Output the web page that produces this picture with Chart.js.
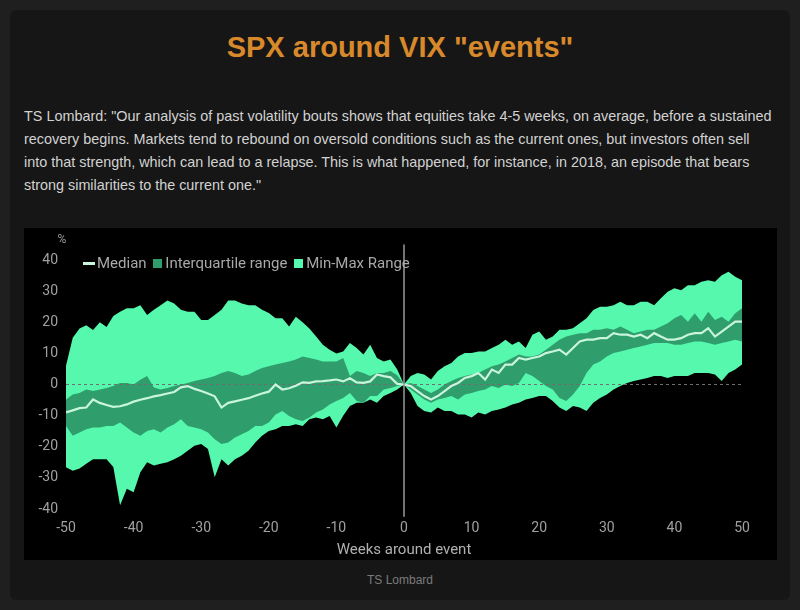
<!DOCTYPE html>
<html>
<head>
<meta charset="utf-8">
<script src="https://cdn.jsdelivr.net/npm/chart.js@4"></script>
<style>
    body { margin: 0; background: #1f1f1f; font-family: "Liberation Sans", Arial, sans-serif; }
    .card { position: absolute; left: 10px; top: 10px; width: 780px; height: 590px; background: #161616; border-radius: 6px; }
    h1 { position: absolute; left: 0; top: 19px; width: 780px; margin: 0; text-align: center; font-size: 29px; line-height: 36px; color: #d8892b; }
    p { position: absolute; left: 14px; top: 95px; width: 760px; margin: 0; font-size: 14.4px; line-height: 23px; color: #d2d2d2; white-space: nowrap; }
    .chart-box { position: absolute; left: 14px; top: 218px; width: 753px; height: 332px; background: #000; }
    .legend { position: absolute; left: 59px; top: 25px; font-family: Roboto, sans-serif; font-size: 15px; color: #a8a8a8; white-space: nowrap; }
    .legend span { display: inline-block; vertical-align: middle; }
    .sw-line { width: 12px; height: 3px; background: #c8f5dc; margin-right: 2px; }
    .sw-box { width: 9px; height: 9px; margin: 0 3px 0 3px; }
    .source { position: absolute; left: 0; top: 563px; width: 780px; text-align: center; font-size: 12px; color: #7a7a7a; }
</style>
</head>
<body>
<div class="card">
    <h1>SPX around VIX "events"</h1>
    <p>TS Lombard: "Our analysis of past volatility bouts shows that equities take 4-5 weeks, on average, before a sustained<br>recovery begins. Markets tend to rebound on oversold conditions such as the current ones, but investors often sell<br>into that strength, which can lead to a relapse. This is what happened, for instance, in 2018, an episode that bears<br>strong similarities to the current one."</p>
    <div class="chart-box">
        <canvas id="spxChart"></canvas>
        <div class="legend">
            <span class="sw-line"></span><span>Median</span>
            <span class="sw-box" style="background:#2f9e6c"></span><span>Interquartile range</span>
            <span class="sw-box" style="background:#55f8ac"></span><span>Min-Max Range</span>
        </div>
    </div>
    <div class="source">TS Lombard</div>
</div>

<script>
// ================= DATA =================
const weeks = [];
for (let w = -50; w <= 50; w++) weeks.push(w);

const median = [
    -9, -8.3, -7.6, -7.4, -4.8, -5.9, -6.6, -7.2, -7, -6.4,
    -5.5, -4.9, -4.4, -3.8, -3.4, -2.9, -2.4, -0.9, -0.5, -1.4,
    -2.1, -2.9, -3.8, -7.4, -5.9, -5.4, -4.9, -4.4, -3.6, -2.9,
    -2.3, 0, -1.6, -1.2, -0.4, 0.7, 0.5, 1, 1.1, 1.3,
    1.6, 1, 2, 0.7, 0.5, 1, 3.2, 2.7, 2.3, 0.2,
    0,
    -0.5, -2.1, -3.7, -4.8, -3.7, -2.1, -0.5, 0.5, 2.1, 2.7,
    3.7, 1.6, 4.8, 3.7, 6.4, 6.4, 8.5, 8, 8.5, 9,
    10.1, 10.6, 11.2, 9.6, 11.7, 13.8, 14.4, 14.4, 14.9, 14.9,
    16.5, 16, 16, 15.4, 16, 14.9, 16.5, 15.4, 14.4, 14.4,
    14.9, 16, 16.5, 16.5, 18.1, 15.4, 17, 18.6, 20.2, 20.2
];

const iqrHigh = [
    -4.8, -3.2, -2.7, -1.6, -2.1, -1.6, -1.1, -0.5, 0.5, 0.5,
    0, 1.5, 2.7, -1, -1.6, -1.1, -0.5, 0, 0.5, 1.1,
    1.6, 2.1, 2.7, 3.7, 4.3, 3.7, 2.7, 3.2, 4.3, 5.3,
    5.9, 6.4, 6.9, 7.4, 8, 9, 8.5, 8, 7.4, 7.4,
    7.4, 8.5, 2.7, 4.3, 3.7, 2.7, 3.7, 3.7, 4.3, 3,
    0,
    0.5, -0.5, -1.6, -2.7, -1.6, 0, 1.1, 2.1, 2.7, 3.2,
    3.7, 4.8, 5.9, 6.4, 7.4, 8.5, 9.6, 9, 9, 9.6,
    11.2, 12.8, 14.4, 15.4, 16, 16.5, 16.5, 17.6, 17.6, 18.1,
    17.6, 18.6, 17.6, 16.5, 17, 17.6, 17.6, 18.6, 19.7, 21.3,
    22.3, 20.2, 22.9, 20.2, 23.4, 20.7, 21.8, 20.2, 22.9, 24.5
];

const iqrLow = [
    -13.3, -16.5, -15.4, -14.4, -13.8, -13.8, -13.3, -13.3, -12.2, -13.8,
    -15.4, -16.5, -14.9, -14.4, -15.4, -13.8, -12.8, -11.2, -13.3, -13.8,
    -14.4, -15.4, -17.6, -19.1, -18.6, -17, -16, -14.9, -13.3, -13.3,
    -12.2, -9.6, -8.5, -10.1, -11.2, -11.7, -10.6, -9, -8, -6.4,
    -5.3, -4.3, -2.7, -5.3, -5.9, -3.7, -3.7, -1.6, -1.1, -0.5,
    0,
    -1.6, -3.2, -4.8, -5.9, -4.8, -4.3, -3.7, -4.8, -3.2, -2.7,
    -2.1, -1.6, -0.5, -1.1, 0, -0.5, 0.5, 3.7, 2.7, 1.1,
    -0.5, -1.6, -4.3, -5.3, -3.2, -0.5, 3.7, 6.4, 7.4, 9,
    10.1, 10.6, 11.2, 11.7, 12.2, 12.8, 13.3, 13.3, 13.3, 12.8,
    12.8, 13.3, 13.8, 13.8, 13.3, 12.8, 13.3, 13.8, 14.4, 13.8
];

const rangeHigh = [
    6, 15, 18, 19, 17.5, 20, 18.5, 22, 23.4, 24.5,
    24.5, 25.5, 22.3, 24, 25.5, 27, 26, 24, 23.4, 23.4,
    20.7, 20.7, 22.3, 24, 27, 27, 26, 25.5, 25.5, 24,
    23, 21.3, 21.3, 18.6, 21.8, 20, 18, 15.4, 12.8, 11.2,
    10, 10.6, 13.3, 11.7, 9.6, 12.8, 8.5, 7.4, 8, 4.8,
    0,
    2.7, 3.7, 3.2, 1.6, 4.3, 5.9, 6.9, 9, 10.1, 10.1,
    10.6, 10.6, 11.7, 12.8, 14.4, 12.8, 13.8, 11.7, 16, 17,
    14.4, 15.4, 17.6, 17.6, 18.1, 19.7, 21.3, 23.9, 25, 25,
    25.5, 26.6, 25.5, 25.5, 26.6, 26.6, 25.5, 27.7, 29.8, 30.9,
    30.3, 31.9, 31.9, 33, 33.5, 33, 35.1, 36.2, 34.6, 33.5
];

const rangeLow = [
    -26.6, -27.7, -27, -25.5, -24, -24, -24, -26.5, -38.8, -33.5,
    -34.6, -28.2, -25, -26, -25.5, -25, -24, -22.9, -21.3, -19.7,
    -19.1, -20.7, -29.8, -24, -26, -24, -22.9, -21.3, -18.6, -16.5,
    -14.9, -14.4, -13.3, -13.3, -12.8, -13.3, -11.2, -10.6, -11.2, -10.1,
    -13.8, -10, -6.9, -5.9, -5.9, -4.8, -5.9, -3.7, -2.7, -1.6,
    0,
    -2.7, -6.9, -8.5, -9, -7.4, -8.5, -8.5, -9.6, -9.6, -10.6,
    -9, -9.6, -8.5, -8, -7.4, -6.4, -5.9, -4.8, -4.3, -3.7,
    -3.7, -5.3, -7.4, -8.5, -6.9, -7.4, -8.5, -5.9, -4.3, -3.2,
    -1.6, -0.5, 0.5, 1.1, 1.6, 2.1, 2.7, 2.7, 2.1, 2.7,
    2.7, 2.7, 3.7, 3.7, 3.7, 3.2, 1.1, 3.7, 4.8, 6.4
];

const yTicks = [-40, -30, -20, -10, 0, 10, 20, 30, 40];
const xTicks = [-50, -40, -30, -20, -10, 0, 10, 20, 30, 40, 50];

// ================= HELPERS =================
function toPoints(values) {
    return weeks.map((w, i) => ({ x: w, y: values[i] }));
}

const band = { borderWidth: 0, pointRadius: 0, tension: 0 };

// ================= EXTRA DRAWING =================
// dashed zero line goes over the bands but under the median
const zeroLine = {
    id: "zeroLine",
    beforeDatasetDraw(chart, args) {
        if (args.index !== 0) return;
        const { ctx, scales: { x, y } } = chart;
        ctx.save();
        ctx.strokeStyle = "#6e6e6e";
        ctx.lineWidth = 1;
        ctx.setLineDash([3, 3]);
        ctx.beginPath();
        ctx.moveTo(x.getPixelForValue(-50), y.getPixelForValue(0));
        ctx.lineTo(x.getPixelForValue(50), y.getPixelForValue(0));
        ctx.stroke();
        ctx.restore();
    }
};

const axisMarks = {
    id: "axisMarks",
    afterDatasetsDraw(chart) {
        const { ctx, scales: { x, y } } = chart;
        const x0 = x.getPixelForValue(0);
        ctx.save();
        ctx.strokeStyle = "#9a9a9a";
        ctx.lineWidth = 1.5;
        ctx.beginPath();
        ctx.moveTo(x0, y.getPixelForValue(45));
        ctx.lineTo(x0, y.getPixelForValue(-42.5));
        ctx.stroke();
        ctx.fillStyle = "#9a9a9a";
        ctx.font = "12px Roboto";
        ctx.textAlign = "center";
        ctx.textBaseline = "middle";
        ctx.fillText("%", 38, 12);
        ctx.restore();
    }
};

// ================= CHART =================
new Chart(document.getElementById("spxChart"), {
    type: "line",
    data: {
        datasets: [
            { label: "Median", data: toPoints(median), borderColor: "#c8f5dc", borderWidth: 2.2, pointRadius: 0, tension: 0, fill: false },
            { label: "IQR high", data: toPoints(iqrHigh), ...band, fill: "+1", backgroundColor: "#2f9e6c" },
            { label: "IQR low", data: toPoints(iqrLow), ...band, fill: false },
            { label: "Range high", data: toPoints(rangeHigh), ...band, fill: "+1", backgroundColor: "#55f8ac" },
            { label: "Range low", data: toPoints(rangeLow), ...band, fill: false }
        ]
    },
    options: {
        responsive: true,
        maintainAspectRatio: false,
        animation: false,
        layout: { padding: { top: 32, right: 35, left: 0, bottom: 0 } },
        plugins: { legend: { display: false }, tooltip: { enabled: false } },
        scales: {
            x: {
                type: "linear",
                min: -50,
                max: 50,
                afterFit: s => { s.height = 51; },
                afterBuildTicks: s => { s.ticks = xTicks.map(v => ({ value: v })); },
                grid: { display: false, drawTicks: false },
                border: { display: false },
                ticks: { color: "#a0a0a0", font: { family: "Roboto", size: 14 }, padding: 11, maxRotation: 0 },
                title: { display: true, text: "Weeks around event", color: "#b0b0b0", font: { family: "Roboto", size: 15 }, padding: { top: 0, bottom: 1 } }
            },
            y: {
                min: -40,
                max: 40,
                afterFit: s => { s.width = 42; },
                afterBuildTicks: s => { s.ticks = yTicks.map(v => ({ value: v })); },
                grid: { display: false, drawTicks: false },
                border: { display: false },
                ticks: { color: "#a0a0a0", font: { family: "Roboto", size: 14 }, padding: 8 }
            }
        }
    },
    plugins: [zeroLine, axisMarks]
});
</script>
</body>
</html>
